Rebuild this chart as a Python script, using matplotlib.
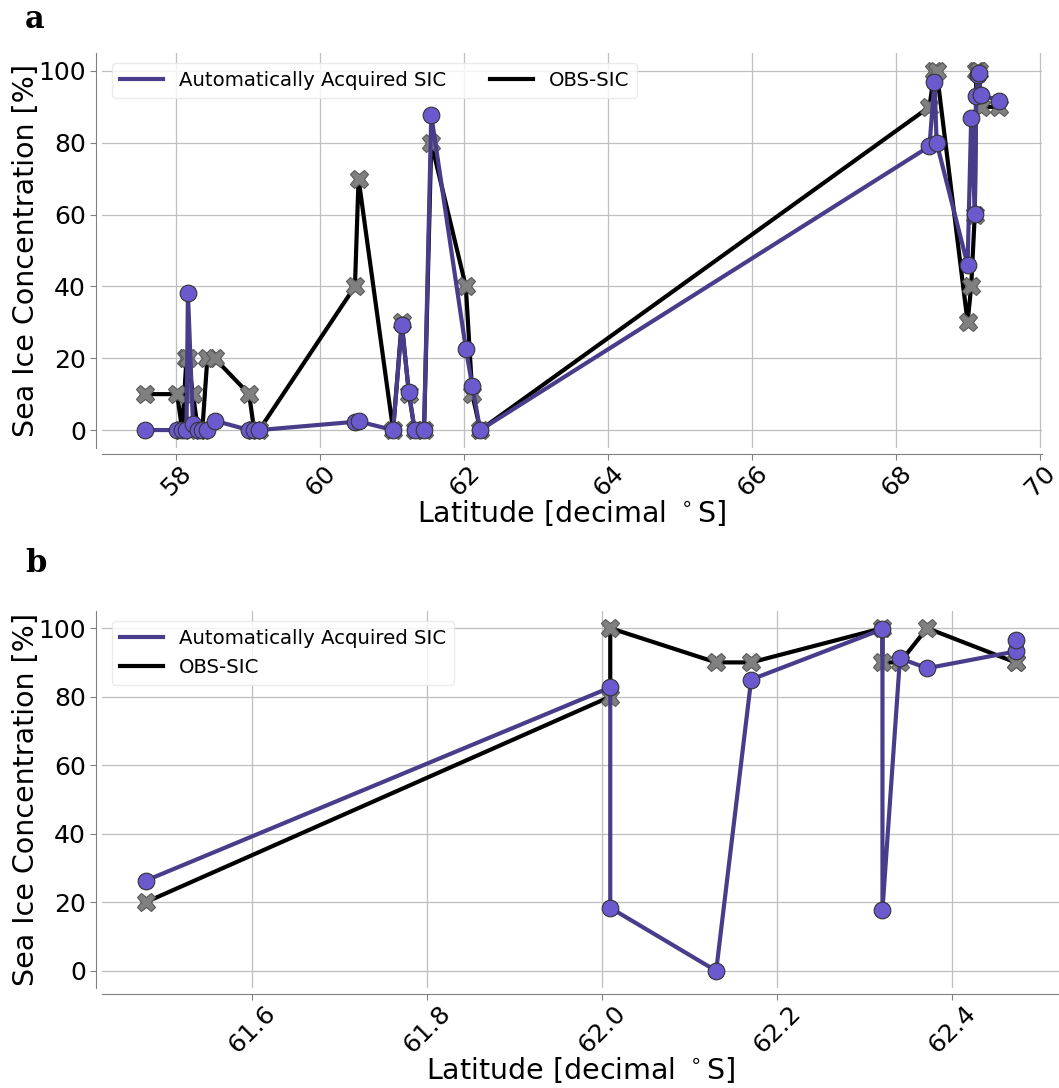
import numpy as np
import matplotlib
matplotlib.use("Agg")
import matplotlib.pyplot as plt

## Données

# panneau a : toute la campagne
lat_a = [57.56, 58.01, 58.08, 58.14, 58.16, 58.23, 58.30, 58.36, 58.43, 58.53,
         59.01, 59.08, 59.15, 60.48, 60.53, 61.01, 61.13, 61.23, 61.31, 61.44,
         61.54, 62.02, 62.11, 62.22, 68.46, 68.53, 68.56, 68.99, 69.04, 69.09,
         69.11, 69.13, 69.15, 69.17, 69.43]
auto_a = [0, 0, 0, 0, 38.2, 1.7, 0, 0, 0, 2.6,
          0, 0, 0, 2.3, 2.4, 0, 29.2, 10.5, 0, 0,
          87.7, 22.7, 12.3, 0, 79, 97, 80, 46, 87, 60.3,
          93, 99, 99.5, 93.4, 91.7]
obs_a = [10, 10, 0, 20, 20, 10, 0, 0, 20, 20,
         10, 0, 0, 40, 70, 0, 30, 10, 0, 0,
         80, 40, 10, 0, 90, 100, 100, 30, 40, 60,
         100, 100, 100, 90, 90]

# panneau b : zoom 61.4 - 62.5
lat_b = [61.478, 62.009, 62.009, 62.130, 62.170, 62.320, 62.320, 62.340, 62.371, 62.472, 62.472]
auto_b = [26.3, 82.7, 18.4, 0.0, 85.0, 99.7, 17.8, 91.2, 88.3, 93.2, 96.4]
obs_b = [20, 80, 100, 90, 90, 100, 90, 90, 100, 90, 90]

yticks = [0, 20, 40, 60, 80, 100]
xticks_a = [58, 60, 62, 64, 66, 68, 70]
xticks_b = [61.6, 61.8, 62.0, 62.2, 62.4]

W, H = 1059, 1088
fig = plt.figure(figsize=(W/100, H/100), dpi=100)

# positions en pixels (gauche, haut, droite, bas)
ax_a = fig.add_axes([102/W, 1-448/H, (1042-102)/W, 395/H])
ax_b = fig.add_axes([102/W, 1-988/H, (1059-102)/W, 377/H])

def trace(ax, lat, auto, obs, xticks, fmt, ncol):
    ax.grid(True, color='0.75', lw=0.9, zorder=0)
    ax.set_axisbelow(True)
    ax.plot(lat, obs, color='black', lw=3, marker='X', ms=13,
            mfc='grey', mec='0.35', mew=0.8, label='OBS-SIC', zorder=2)
    ax.plot(lat, auto, color='darkslateblue', lw=3, marker='o', ms=12,
            mfc='slateblue', mec='0.2', mew=0.8, label='Automatically Acquired SIC', zorder=3)
    ax.set_ylim(-5, 105)
    ax.set_yticks(yticks)
    ax.set_xticks(xticks)
    ax.set_xticklabels([fmt.format(v) for v in xticks])
    ax.tick_params(labelsize=18, labelcolor='black', length=4, color='0.5')
    ax.tick_params(axis='x', labelrotation=45, pad=1.5)
    ax.set_ylabel('Sea Ice Concentration [%]', fontsize=20.5, color='black', labelpad=-1)
    ax.set_xlabel(r'Latitude [decimal $^\circ$S]', fontsize=20.5, color='black', labelpad=-2)
    for s in ['top', 'right']:
        ax.spines[s].set_visible(False)
    for s in ['left', 'bottom']:
        ax.spines[s].set_position(('outward', 4))
        ax.spines[s].set_color('0.5')
    h, l = ax.get_legend_handles_labels()
    leg = ax.legend(h[::-1], l[::-1], loc='upper left', ncol=ncol, fontsize=14.2,
                    handlelength=2.2, framealpha=0.8, columnspacing=2.2,
                    bbox_to_anchor=(0.0, 1.0))
    leg.get_frame().set_edgecolor('0.9')
    for ln in leg.get_lines():
        ln.set_marker('')

trace(ax_a, lat_a, auto_a, obs_a, xticks_a, '{:g}', 2)
trace(ax_b, lat_b, auto_b, obs_b, xticks_b, '{:.1f}', 1)

fig.text(25/W, 1-28/H, 'a', fontsize=22, fontweight='bold', family='DejaVu Serif')
fig.text(25/W, 1-572/H, 'b', fontsize=22, fontweight='bold', family='DejaVu Serif')

fig.savefig('out.png', dpi=100)
